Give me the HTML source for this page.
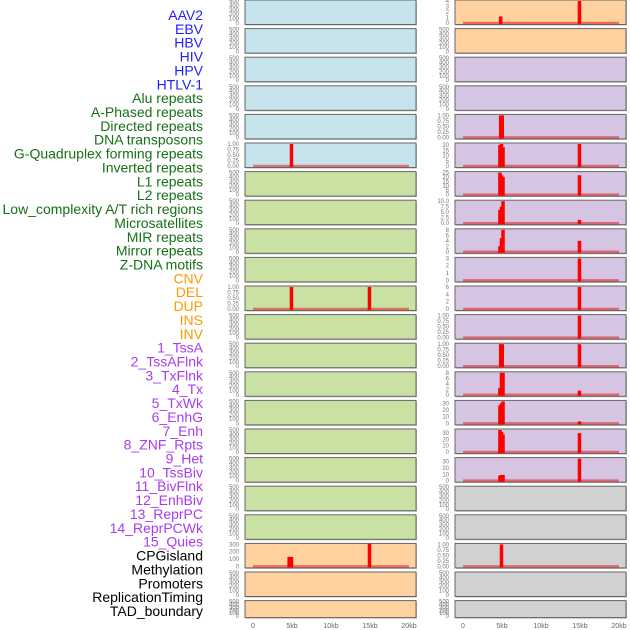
<!DOCTYPE html>
<html><head><meta charset="utf-8"><style>
body{margin:0;background:#fff;width:630px;height:630px;overflow:hidden}
svg{display:block}
</style></head><body>
<svg id="chart" width="630" height="630" xmlns="http://www.w3.org/2000/svg" font-family="Liberation Sans, sans-serif"></svg>
<script>
const labels=["AAV2","EBV","HBV","HIV","HPV","HTLV-1","Alu repeats","A-Phased repeats","Directed repeats","DNA transposons","G-Quadruplex forming repeats","Inverted repeats","L1 repeats","L2 repeats","Low_complexity A/T rich regions","Microsatellites","MIR repeats","Mirror repeats","Z-DNA motifs","CNV","DEL","DUP","INS","INV","1_TssA","2_TssAFlnk","3_TxFlnk","4_Tx","5_TxWk","6_EnhG","7_Enh","8_ZNF_Rpts","9_Het","10_TssBiv","11_BivFlnk","12_EnhBiv","13_ReprPC","14_ReprPCWk","15_Quies","CPGisland","Methylation","Promoters","ReplicationTiming","TAD_boundary"];
const labelColors=[6,"#1f1fff",13,"#167016",5,"#ff9900",15,"#a83cf0",5,"#000000"];
const xTicks=[0,5000,10000,15000,20000];
const xTickLabels=["0","5kb","10kb","15kb","20kb"];
const leftColors=["b","b","b","b","b","b","g","g","g","g","g","g","g","g","g","g","g","g","g","o","o","o"];
const rightColors=["o","o","p","p","p","p","p","p","p","p","p","p","p","p","p","p","p","g2","g2","g2","g2","g2"];
const leftMax={5:1,10:1,19:300};
const leftBars={5:[[4900,1]],10:[[4900,1],[14900,1]],19:[[4600,130],[4900,130],[14900,310]]};
const rightMax={0:4,4:1,5:21,6:25,7:10,8:8,9:3,10:6,11:1,12:1,13:8,14:33,15:35,16:35,19:1};
const rightBars={0:[[4800,1.2],[14900,4]],4:[[4800,1],[5000,1]],5:[[4700,20],[4900,21],[5100,18],[14900,21]],6:[[4700,25],[4900,22],[5100,20],[14900,22]],7:[[4700,6],[4900,7.5],[5100,10],[14900,1.5]],8:[[4700,2],[4900,5],[5100,8],[14900,4]],9:[[14900,3]],10:[[14900,6]],11:[[14900,1]],12:[[4800,1],[5000,1],[14900,1]],13:[[4700,2.5],[4900,8],[5100,8],[14900,1.5]],14:[[4700,27],[4900,30],[5100,33],[14900,3]],15:[[4700,35],[4900,32],[5100,28],[14900,30]],16:[[4700,8],[4900,9],[5100,9],[14900,35]],19:[[4900,1]]};
const tickSets={1:[0,0.25,0.5,0.75,1],3:[0,1,2,3],4:[0,1,2,3,4],6:[0,2,4,6],8:[0,2,4,6,8],10:[0,2.5,5,7.5,10],21:[0,5,10,15,20],25:[0,5,10,15,20,25],33:[0,10,20,30],35:[0,10,20,30],300:[0,100,200,300],500:[0,100,200,300,400,500]};
const fills={b:"#c7e4ec",g:"#c9e1a2",o:"#ffd19f",p:"#d6c5e2",g2:"#d1d1d1"};
const NS="http://www.w3.org/2000/svg";
const svg=document.getElementById('chart');
function mk(t,a,p){const e=document.createElementNS(NS,t);for(const k in a)e.setAttribute(k,a[k]);(p||svg).appendChild(e);return e;}
// labels
let ci=0,cnt=0,col=labelColors[1];
const cols=[];for(let i=0;i<labelColors.length;i+=2){for(let j=0;j<labelColors[i];j++)cols.push(labelColors[i+1]);}
labels.forEach((l,i)=>{const t=mk('text',{x:203,y:20+i*13.86,'text-anchor':'end','font-size':14,fill:cols[i]});t.textContent=l;

});
function fmt(v,mx){if(mx===1)return v.toFixed(2);if(mx===10)return v.toFixed(1);return String(v);}
function panel(px,row,colorKey,mx,bars,side){
  const top=row*28.6, h=row===21?17:24.5, w=171;
  const g=mk('g',{});
  
  
  mk('rect',{x:px+1,y:top+1,width:w,height:h,fill:'#bbb'},g);
  mk('rect',{x:px,y:top,width:w,height:h,fill:fills[colorKey],stroke:'#666','stroke-width':1},g);
  const max=mx||500;
  const y=v=>top+h-1.5-v/max*(h-2.5);
  const x=v=>px+8+v/20000*156;
  (tickSets[max]||[0,max]).forEach(v=>{const t=mk('text',{x:px-6,y:y(v)+2,'text-anchor':'end','font-size':6,fill:'#777'},g);t.textContent=fmt(v,max);
    });
  if(bars){
    const bl=mk('line',{x1:x(0),x2:x(20000),y1:y(0),y2:y(0),stroke:'rgba(220,30,30,0.55)','stroke-width':2.5},g);
    
    bars.forEach(b=>{const r=mk('rect',{x:x(b[0])-1.5,y:y(b[1]),width:3.5,height:y(0)-y(b[1])+1,fill:'#ff0000'},g);
      });
  }
}
for(let r=0;r<22;r++){panel(245,r,leftColors[r],leftMax[r],leftBars[r],'left');panel(455,r,rightColors[r],rightMax[r],rightBars[r],'right');}
[245,455].forEach(px=>{xTicks.forEach((v,i)=>{const t=mk('text',{x:px+8+v/20000*156,y:628,'text-anchor':'middle','font-size':7,fill:'#666'});t.textContent=xTickLabels[i];
  });});
</script>
</body></html>
